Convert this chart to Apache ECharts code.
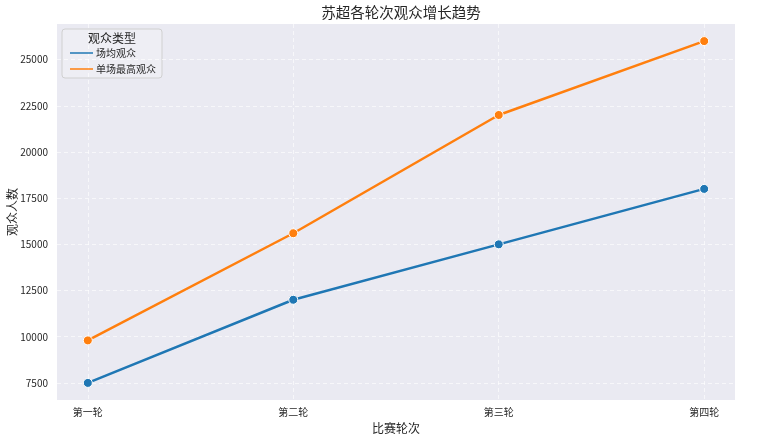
<!DOCTYPE html>
<html>
<head>
<meta charset="utf-8">
<script src="https://cdn.jsdelivr.net/npm/echarts@6/dist/echarts.min.js"></script>
<style>
    html, body { margin: 0; padding: 0; background: #fff; }
    #main { width: 774px; height: 441px; }
</style>
</head>
<body>
<div id="main"></div>
<script>
// 数据
var rounds = ['第一轮', '第二轮', '第三轮', '第四轮'];
var avgAudience = [7500, 12000, 15000, 18000];
var maxAudience = [9800, 15600, 22000, 26000];
var yTicks = [7500, 10000, 12500, 15000, 17500, 20000, 22500, 25000];
var seriesNames = ['场均观众', '单场最高观众'];
var seriesColors = ['#1f77b4', '#ff7f0e'];

var FONT = '"Noto Sans CJK SC", "DejaVu Sans", sans-serif';

window.onload = function () {
    var myChart = echarts.init(document.getElementById('main'));

    function toPoints(arr) {
        var out = [];
        for (var i = 0; i < arr.length; i++) {
            out.push([i, arr[i]]);
        }
        return out;
    }

    // 和 matplotlib 一样留 5% 边距
    var yMin = Math.min.apply(null, avgAudience.concat(maxAudience));
    var yMax = Math.max.apply(null, avgAudience.concat(maxAudience));
    var pad = (yMax - yMin) * 0.05;
    var xPad = (rounds.length - 1) * 0.05;
    var xTicks = rounds.map(function (r, i) { return i; });

    function makeSeries(idx, values) {
        return {
            name: seriesNames[idx],
            type: 'line',
            data: toPoints(values),
            symbol: 'circle',
            symbolSize: 9,
            lineStyle: { width: 2.5, color: seriesColors[idx] },
            itemStyle: { color: seriesColors[idx], borderColor: '#ffffff', borderWidth: 1 },
            z: 3
        };
    }

    var option = {
        animation: false,
        textStyle: { fontFamily: FONT },
        title: {
            text: '苏超各轮次观众增长趋势',
            left: 396,
            top: 0,
            textAlign: 'center',
            textStyle: { fontSize: 14.5, fontWeight: 'normal', color: '#262626', fontFamily: FONT }
        },
        grid: {
            left: 57,
            right: 39,
            top: 24,
            bottom: 41,
            outerBoundsMode: 'none',
            containLabel: false,
            show: true,
            backgroundColor: '#EAEAF2',
            borderWidth: 0
        },
        legend: {
            data: seriesNames,
            orient: 'vertical',
            left: 65,
            top: 42,
            icon: 'rect',
            itemWidth: 23,
            itemHeight: 1.5,
            itemGap: 4,
            itemStyle: { borderWidth: 0 },
            textStyle: { fontSize: 10, color: '#262626', lineHeight: 12, padding: [0, 0, 0, -2] }
        },
        graphic: [
            {
                type: 'rect',
                z: 0,
                shape: { x: 62, y: 29, width: 100, height: 49, r: 3 },
                style: { fill: 'rgba(238,238,244,0.9)', stroke: '#d0d0d0', lineWidth: 1 }
            },
            {
                type: 'text',
                z: 1,
                style: {
                    x: 112, y: 38, text: '观众类型', align: 'center', verticalAlign: 'middle',
                    fontSize: 12, fill: '#262626', fontFamily: FONT
                }
            }
        ],
        xAxis: {
            type: 'value',
            min: -xPad,
            max: rounds.length - 1 + xPad,
            name: '比赛轮次',
            nameLocation: 'middle',
            nameGap: 22,
            nameMoveOverlap: false,
            nameTextStyle: { fontSize: 12, color: '#262626' },
            axisLine: { show: false },
            axisTick: { show: false, customValues: xTicks },
            axisLabel: {
                customValues: xTicks,
                fontSize: 10,
                color: '#262626',
                margin: 7,
                formatter: function (v) { return rounds[Math.round(v)]; }
            },
            splitLine: { show: true, lineStyle: { color: 'rgba(255,255,255,0.8)', type: [4, 3], width: 0.8 } }
        },
        yAxis: {
            type: 'value',
            min: yMin - pad,
            max: yMax + pad,
            name: '观众人数',
            nameLocation: 'middle',
            nameGap: 39,
            nameMoveOverlap: false,
            nameTextStyle: { fontSize: 12, color: '#262626' },
            axisLine: { show: false },
            axisTick: { show: false, customValues: yTicks },
            axisLabel: {
                customValues: yTicks,
                fontSize: 10,
                color: '#262626',
                margin: 9,
                formatter: function (v) { return String(v); }
            },
            splitLine: { show: true, lineStyle: { color: 'rgba(255,255,255,0.8)', type: [4, 3], width: 0.8 } }
        },
        series: [
            makeSeries(0, avgAudience),
            makeSeries(1, maxAudience)
        ]
    };

    myChart.setOption(option);
};
</script>
</body>
</html>
